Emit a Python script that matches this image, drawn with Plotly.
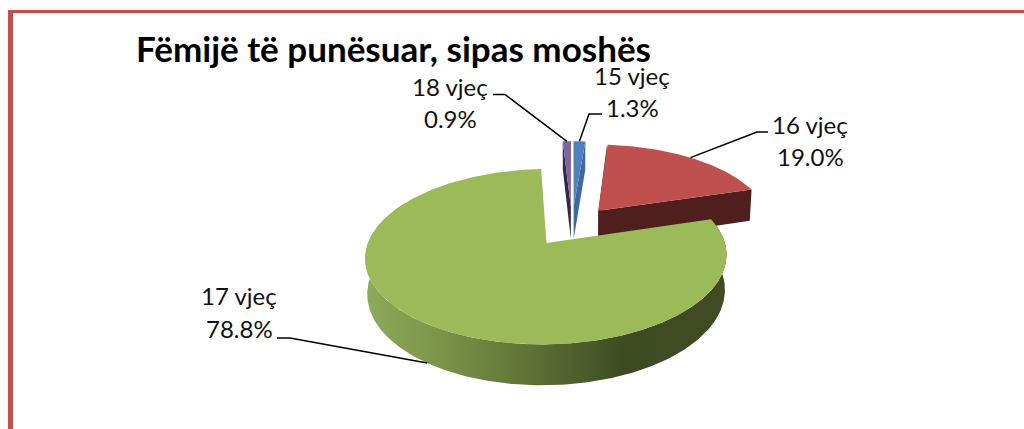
import numpy as np
import plotly.graph_objects as go

# --- data ---
categories = ["15 vjeç", "16 vjeç", "17 vjeç", "18 vjeç"]
values = [1.3, 19.0, 78.8, 0.9]
title_text = "Fëmijë të punësuar, sipas moshës"

top_colors = ["#4F81BD", "#C0504D", "#9BBB59", "#8064A2"]
face_colors = ["#3C6A9F", "#4F1F1E", "#3E4B22", "#33264A"]

# --- projection of the tilted 3-D pie onto the 1024x429 canvas ---
CX, CY, R, T, K, EXPLODE, H, BOTTOM_SCALE = 572, 226, 173, 80.5, 0.15, 0.25, 33.5, 0.99


def project(u, v, bottom=False):
    u, v = np.asarray(u, float), np.asarray(v, float)
    s = 1 / (1 + K * v)
    x = R * u * s
    y = CY - T * v * s
    if bottom:
        return CX + x * BOTTOM_SCALE, y + H * s
    return CX + x, y


def rim(theta_deg, apex, bottom=False):
    th = np.radians(theta_deg)
    return project(apex[0] + np.sin(th), apex[1] + np.cos(th), bottom)


total = sum(values)
edges = np.concatenate([[0], np.cumsum(values)]) / total * 360
slices = []
for i in range(len(values)):
    a, b = edges[i], edges[i + 1]
    mid = np.radians((a + b) / 2)
    slices.append(dict(a=a, b=b, mid=(a + b) / 2,
                       apex=(EXPLODE * np.sin(mid), EXPLODE * np.cos(mid))))

fig = go.Figure()


def poly(x, y, color, **kw):
    trace = dict(x=list(x), y=list(y), mode="lines", line=dict(width=0),
                 fill="toself", hoverinfo="skip", showlegend=False)
    if color:
        trace["fillcolor"] = color
    trace.update(kw)
    fig.add_trace(go.Scatter(**trace))


def radial_face(sl, theta, color):
    ax, ay = project(*sl["apex"])
    bx, by = project(*sl["apex"], bottom=True)
    rx, ry = rim(theta, sl["apex"])
    qx, qy = rim(theta, sl["apex"], bottom=True)
    poly([ax, rx, qx, bx, ax], [ay, ry, qy, by, ay], color)


def top_face(sl, color):
    th = np.linspace(sl["a"], sl["b"], 300)
    x, y = rim(th, sl["apex"])
    ax, ay = project(*sl["apex"])
    poly(np.r_[ax, x, ax], np.r_[ay, y, ay], color)


# back slices: 18 vjeç, 15 vjeç, 16 vjeç
for idx in (3, 0, 1):
    sl = slices[idx]
    radial_face(sl, sl["a"], face_colors[idx])
    radial_face(sl, sl["b"], face_colors[idx])
    top_face(sl, top_colors[idx])

# front slice: 17 vjeç with a shaded outer wall
sl = slices[2]
th = np.linspace(sl["a"], 300, 400)
tx, ty = rim(th, sl["apex"])
bx, by = rim(th, sl["apex"], bottom=True)
poly(np.r_[tx, bx[::-1], tx[0]], np.r_[ty, by[::-1], ty[0]], None,
     fillgradient=dict(type="horizontal",
                       colorscale=[[0, "#8FAA5A"], [0.2, "#7C9549"], [0.45, "#5E7335"],
                                   [0.72, "#3D4A22"], [1, "#3F4C23"]]))
top_face(sl, top_colors[2])

# leader lines: slice rim -> elbow -> label
elbows = [[(589, 114), (602, 114)], [(757, 132), (768, 132)],
          [(290, 338), (277, 338)], [(505, 94.5), (493, 94.5)]]
for i, sl in enumerate(slices):
    px, py = rim(sl["mid"], sl["apex"], bottom=(i == 2))
    xs = [float(px)] + [p[0] for p in elbows[i]]
    ys = [float(py)] + [p[1] for p in elbows[i]]
    fig.add_trace(go.Scatter(x=xs, y=ys, mode="lines", line=dict(color="#000000", width=1.5),
                             hoverinfo="skip", showlegend=False))

# labels
label_pos = [(632, 75, 107), (810, 124, 156), (239, 295, 328), (450, 86, 118)]
annotations = []
for name, val, (lx, y1, y2) in zip(categories, values, label_pos):
    for txt, ly in ((name, y1), (f"{val:.1f}%", y2)):
        annotations.append(dict(x=lx, y=ly, xref="x", yref="y", text=txt, showarrow=False,
                                xanchor="center", yanchor="middle",
                                font=dict(family="Lato", size=24, color="#111111")))
annotations.append(dict(x=134, y=48, xref="x", yref="y", text=f"<b>{title_text}</b>", showarrow=False,
                        xanchor="left", yanchor="middle",
                        font=dict(family="Lato", size=35, color="#000000")))

border = "#C0504D"
fig.update_layout(
    width=1024, height=429, margin=dict(l=0, r=0, t=0, b=0),
    paper_bgcolor="#FFFFFF", plot_bgcolor="#FFFFFF", showlegend=False,
    xaxis=dict(range=[0, 1024], visible=False, fixedrange=True),
    yaxis=dict(range=[429, 0], visible=False, fixedrange=True),
    annotations=annotations,
    shapes=[
        dict(type="rect", xref="x", yref="y", x0=8, x1=1024, y0=10, y1=13, fillcolor=border, line_width=0),
        dict(type="rect", xref="x", yref="y", x0=8, x1=13, y0=10, y1=429, fillcolor=border, line_width=0),
    ],
)
fig.write_html("out.html", config=dict(displayModeBar=False),
               post_script="document.body.style.margin='0';")
